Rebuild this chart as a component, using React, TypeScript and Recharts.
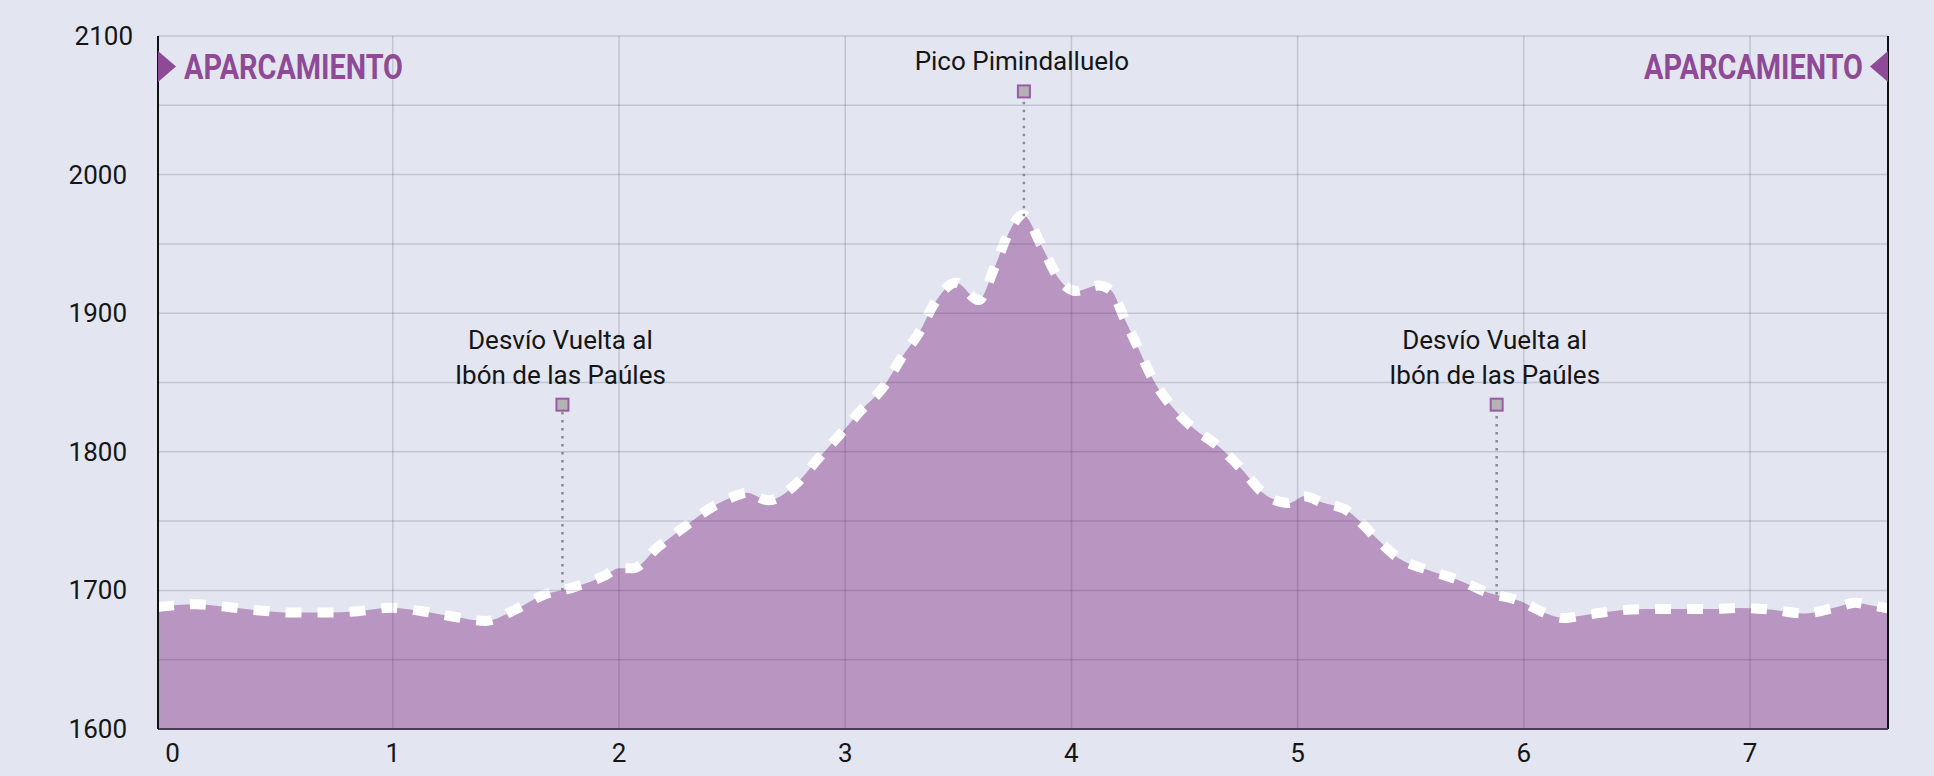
import React from 'react';
import { AreaChart, Area, XAxis, YAxis, ReferenceLine, ReferenceDot } from 'recharts';

// elevation profile (km, m)
const distanceKm = [
    -0.038, 0.13, 0.27, 0.41, 0.56, 0.70, 0.845, 0.985, 1.13, 1.27, 1.41, 1.54, 1.67, 1.795,
    1.94, 2.0, 2.06, 2.17, 2.29, 2.40, 2.53, 2.565, 2.66, 2.79, 2.88, 2.98, 3.07, 3.17,
    3.245, 3.33, 3.39, 3.49, 3.59, 3.66, 3.72, 3.785, 3.87, 3.94, 4.02, 4.12, 4.175, 4.235,
    4.295, 4.355, 4.435, 4.54, 4.65, 4.75, 4.85, 4.96, 5.03, 5.10, 5.225, 5.34, 5.44, 5.57,
    5.71, 5.84, 5.98, 6.105, 6.18, 6.245, 6.39, 6.535, 6.675, 6.815, 6.96, 7.10, 7.24, 7.385,
    7.465, 7.525, 7.61,
];
const elevationM = [
    1688, 1690, 1688, 1685.5, 1684, 1684, 1685, 1687.5, 1685, 1681, 1678, 1686, 1697, 1702,
    1711, 1716, 1716, 1731, 1746, 1759, 1769, 1770.5, 1765, 1778, 1795, 1813, 1830, 1847,
    1867, 1887, 1906, 1922, 1909.5, 1933, 1957, 1971, 1948, 1926, 1916, 1920, 1916.5, 1896,
    1875, 1854, 1834.5, 1817, 1804, 1788, 1770, 1763, 1768, 1764, 1757, 1739, 1724, 1715,
    1707.5, 1698.5, 1692.5, 1683, 1680, 1681.5, 1685, 1686.5, 1686.5, 1686.5, 1687.3, 1686, 1683.4, 1688,
    1691, 1689.5, 1687,
];

const xTicks = [0, 1, 2, 3, 4, 5, 6, 7];
const yTicks = [1600, 1700, 1800, 1900, 2000, 2100];
const gridKm = [1, 2, 3, 4, 5, 6, 7];
const gridElev = [1650, 1700, 1750, 1800, 1850, 1900, 1950, 2000, 2050, 2100];

// waypoints
const waypointKm = [1.75, 3.79, 5.88];
const waypointGround = [1700, 1970, 1697];
const waypointMarker = [1834, 2060, 1834];
const waypointLabels = [
    ['Desvío Vuelta al', 'Ibón de las Paúles'],
    ['Pico Pimindalluelo'],
    ['Desvío Vuelta al', 'Ibón de las Paúles'],
];

const endpointLabel = 'APARCAMIENTO';
const endpointElev = 2078;

const xMin = distanceKm[0];
const xMax = distanceKm[distanceKm.length - 1];
const yMin = yTicks[0];
const yMax = yTicks[yTicks.length - 1];

const profile = distanceKm.map((km, i) => ({ km, elev: elevationM[i] }));

const BG = '#e3e6f1';
const FILL = '#b995c1';
const PURPLE = '#8e4a96';
const FONT = 'Roboto, "Noto Sans", sans-serif';

const XTick = (props: any) => {
    const { x, y, payload } = props;
    const dx = payload.value === 0 ? 6 : 0;
    return (
        <text x={x + dx} y={y + 25} textAnchor="middle" fontFamily={FONT} fontSize={26} fill="#151515">
            {payload.value}
        </text>
    );
};

const YTick = (props: any) => {
    const { x, y, payload } = props;
    const dx = payload.value === yMax ? 6 : 0;
    return (
        <text x={x + dx} y={y + 9} textAnchor="end" fontFamily={FONT} fontSize={26} fill="#151515">
            {payload.value}
        </text>
    );
};

const WaypointShape = (lines: string[]) => (props: any) => {
    const { cx, cy } = props;
    return (
        <g>
            {lines.map((t, i) => (
                <text
                    key={i}
                    x={cx - 2}
                    y={cy - 21 - (lines.length - 1 - i) * 35}
                    textAnchor="middle"
                    fontFamily={FONT}
                    fontSize={26}
                    fill="#151515"
                >
                    {t}
                </text>
            ))}
            <rect x={cx - 6} y={cy - 6} width={12} height={12} fill="#b3b3b3" stroke="#9b59a6" strokeWidth={2} />
        </g>
    );
};

const EndpointShape = (side: 'left' | 'right') => (props: any) => {
    const { cx, cy } = props;
    const d = side === 'left' ? 1 : -1;
    const pts = `${cx},${cy - 15.5} ${cx + d * 18},${cy} ${cx},${cy + 15.5}`;
    return (
        <g>
            <polygon points={pts} fill={PURPLE} />
            <text
                x={cx + d * (side === 'left' ? 26 : 25)}
                y={cy + 13}
                textAnchor={side === 'left' ? 'start' : 'end'}
                fontFamily={FONT}
                fontWeight={700}
                fontSize={35}
                textLength={219}
                lengthAdjust="spacingAndGlyphs"
                fill={PURPLE}
            >
                {endpointLabel}
            </text>
        </g>
    );
};

export default function App() {
    return (
        <div style={{ position: 'absolute', left: 0, top: 0, width: 1934, height: 776, background: BG }}>
            <AreaChart
                width={1934}
                height={776}
                data={profile}
                margin={{ top: 36, right: 46, bottom: 7, left: 0 }}
            >
                <XAxis
                    dataKey="km"
                    type="number"
                    domain={[xMin, xMax]}
                    ticks={xTicks}
                    allowDataOverflow
                    tickLine={false}
                    axisLine={{ stroke: '#4b3f57', strokeWidth: 2 }}
                    tick={<XTick />}
                    height={40}
                />
                <YAxis
                    type="number"
                    domain={[yMin, yMax]}
                    ticks={yTicks}
                    allowDataOverflow
                    tickLine={false}
                    tickSize={6}
                    tickMargin={25}
                    axisLine={{ stroke: '#111', strokeWidth: 2 }}
                    tick={<YTick />}
                    width={158}
                />
                <Area
                    type="monotone"
                    dataKey="elev"
                    baseValue={yMin}
                    fill={FILL}
                    fillOpacity={1}
                    stroke="#ffffff"
                    strokeWidth={10}
                    strokeDasharray="16 16"
                    dot={false}
                    activeDot={false}
                    isAnimationActive={false}
                />
                {gridElev.map((v) => (
                    <ReferenceLine key={'h' + v} y={v} stroke="#3c3c5a" strokeOpacity={0.2} strokeWidth={1.5} />
                ))}
                {gridKm.map((v) => (
                    <ReferenceLine key={'v' + v} x={v} stroke="#3c3c5a" strokeOpacity={0.2} strokeWidth={1.5} />
                ))}
                <ReferenceLine x={xMax} stroke="#111" strokeWidth={2} />
                {waypointKm.map((km, i) => (
                    <ReferenceLine
                        key={'s' + i}
                        segment={[{ x: km, y: waypointGround[i] }, { x: km, y: waypointMarker[i] }]}
                        stroke="#8a8a8a"
                        strokeWidth={2.5}
                        strokeDasharray="2.5 5.5"
                    />
                ))}
                {waypointKm.map((km, i) => (
                    <ReferenceDot
                        key={'m' + i}
                        x={km}
                        y={waypointMarker[i]}
                        r={6}
                        ifOverflow="visible"
                        shape={WaypointShape(waypointLabels[i])}
                    />
                ))}
                <ReferenceDot x={xMin} y={endpointElev} r={1} ifOverflow="visible" shape={EndpointShape('left')} />
                <ReferenceDot x={xMax} y={endpointElev} r={1} ifOverflow="visible" shape={EndpointShape('right')} />
            </AreaChart>
        </div>
    );
}
